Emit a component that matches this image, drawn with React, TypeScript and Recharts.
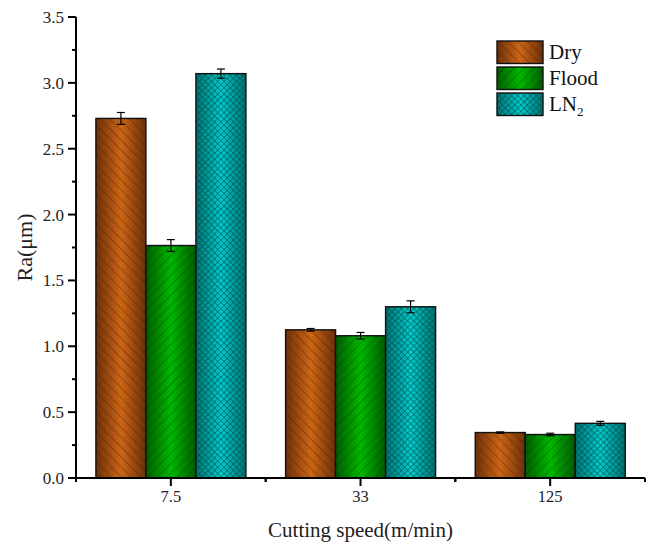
import React from "react";
import { BarChart, Bar, XAxis, YAxis, ErrorBar, Label } from "recharts";

const categories = ["7.5", "33", "125"];
const dryValues = [2.73, 1.125, 0.345];
const floodValues = [1.765, 1.08, 0.33];
const ln2Values = [3.07, 1.3, 0.415];
const dryErrors = [0.045, 0.01, 0.005];
const floodErrors = [0.045, 0.025, 0.01];
const ln2Errors = [0.035, 0.045, 0.015];
const yTicks = [0, 0.25, 0.5, 0.75, 1, 1.25, 1.5, 1.75, 2, 2.25, 2.5, 2.75, 3, 3.25, 3.5];

const data = categories.map((c, i) => ({
  speed: c,
  dry: dryValues[i],
  flood: floodValues[i],
  ln2: ln2Values[i],
  dryErr: dryErrors[i],
  floodErr: floodErrors[i],
  ln2Err: ln2Errors[i],
}));

const FONT = "Liberation Serif, serif";

type SeriesStyle = {
  key: string;
  name: string;
  edge: string;
  mid: string;
  hatch: string;
  kind: "back" | "fwd" | "cross";
};

const series: SeriesStyle[] = [
  { key: "dry", name: "Dry", edge: "#6c3008", mid: "#cc6616", hatch: "#3a1800", kind: "back" },
  { key: "flood", name: "Flood", edge: "#005c00", mid: "#00b800", hatch: "#003000", kind: "fwd" },
  { key: "ln2", name: "LN2", edge: "#007272", mid: "#00cccc", hatch: "#004040", kind: "cross" },
];

// gradient + hatch definitions, prefixed so the legend svg can carry its own copy
const Fills = ({ prefix }: { prefix: string }) => (
  <defs>
    {series.map((s) => (
      <linearGradient key={`g-${s.key}`} id={`${prefix}-grad-${s.key}`} x1="0" y1="0" x2="1" y2="0">
        <stop offset="0%" stopColor={s.edge} />
        <stop offset="50%" stopColor={s.mid} />
        <stop offset="100%" stopColor={s.edge} />
      </linearGradient>
    ))}
    {series.map((s) =>
      s.kind === "cross" ? (
        <pattern
          key={`p-${s.key}`}
          id={`${prefix}-pat-${s.key}`}
          patternUnits="userSpaceOnUse"
          width={4.4}
          height={4.4}
          patternTransform="rotate(45)"
        >
          <line x1={0} y1={0} x2={0} y2={4.4} stroke={s.hatch} strokeWidth={1.2} strokeOpacity={0.8} />
          <line x1={0} y1={0} x2={4.4} y2={0} stroke={s.hatch} strokeWidth={1.2} strokeOpacity={0.8} />
        </pattern>
      ) : (
        <pattern
          key={`p-${s.key}`}
          id={`${prefix}-pat-${s.key}`}
          patternUnits="userSpaceOnUse"
          width={7}
          height={7}
          patternTransform={s.kind === "back" ? "rotate(-45)" : "rotate(45)"}
        >
          <line x1={0} y1={0} x2={0} y2={7} stroke={s.hatch} strokeWidth={0.9} strokeOpacity={0.75} />
        </pattern>
      )
    )}
  </defs>
);

const hatchedRect = (prefix: string, key: string, x: number, y: number, w: number, h: number) => (
  <g>
    <rect x={x} y={y} width={w} height={h} fill={`url(#${prefix}-grad-${key})`} />
    <rect x={x} y={y} width={w} height={h} fill={`url(#${prefix}-pat-${key})`} />
    <rect x={x} y={y} width={w} height={h} fill="none" stroke="#111" strokeWidth={1.4} />
  </g>
);

const barShape = (key: string) => (props: any) => {
  const { x, y, width, height } = props;
  if (!width || !height) return <g />;
  return hatchedRect("c", key, x, y, width, height);
};

const YTick = (props: any) => {
  const { x, y, payload } = props;
  const v = payload.value as number;
  const major = Math.abs(v * 2 - Math.round(v * 2)) < 1e-6;
  const axisX = x + 11;
  return (
    <g>
      <line x1={axisX} y1={y} x2={axisX - (major ? 8 : 4)} y2={y} stroke="#000" strokeWidth={2} />
      {major && (
        <text x={x - 1} y={y} dy={6} textAnchor="end" fontFamily={FONT} fontSize={17} fill="#222">
          {v.toFixed(1)}
        </text>
      )}
    </g>
  );
};

const XTick = (props: any) => {
  const { x, y, payload } = props;
  const axisY = y - 10;
  const half = payload.offset || 95;
  return (
    <g>
      <line x1={x} y1={axisY} x2={x} y2={axisY + 8} stroke="#000" strokeWidth={2} />
      <line x1={x - half} y1={axisY} x2={x - half} y2={axisY + 4} stroke="#000" strokeWidth={2} />
      <line x1={x + half} y1={axisY} x2={x + half} y2={axisY + 4} stroke="#000" strokeWidth={2} />
      <text x={x} y={y} dy={14} textAnchor="middle" fontFamily={FONT} fontSize={16.5} fill="#222">
        {payload.value}
      </text>
    </g>
  );
};

const LegendBox = () => (
  <div style={{ position: "absolute", left: 496, top: 39 }}>
    {series.map((s) => (
      <div key={s.key} style={{ display: "flex", alignItems: "center", height: 26 }}>
        <svg width={48} height={25} style={{ display: "block" }}>
          <Fills prefix={`l${s.key}`} />
          {hatchedRect(`l${s.key}`, s.key, 1, 1, 46, 22.5)}
        </svg>
        <span style={{ fontFamily: FONT, fontSize: 21, color: "#111", marginLeft: 5, lineHeight: "22px" }}>
          {s.key === "ln2" ? (
            <>
              LN<sub style={{ fontSize: 13, verticalAlign: "-5px", lineHeight: 0 }}>2</sub>
            </>
          ) : (
            s.name
          )}
        </span>
      </div>
    ))}
  </div>
);

export default function App() {
  return (
    <div style={{ position: "absolute", left: 0, top: 0, width: 648, height: 543, background: "#fff" }}>
      <BarChart
        width={648}
        height={543}
        data={data}
        margin={{ top: 17, right: 3, left: 16, bottom: 35 }}
        barGap={0}
        barCategoryGap="10.5%"
      >
        <Fills prefix="c" />
        <XAxis
          dataKey="speed"
          height={30}
          tickLine={false}
          tickSize={8}
          tickMargin={2}
          axisLine={{ stroke: "#000", strokeWidth: 2 }}
          tick={<XTick />}
        >
          <Label
            content={(p: any) => {
              const vb = p.viewBox;
              return (
                <text
                  x={vb.x + vb.width / 2}
                  y={vb.y + 59}
                  textAnchor="middle"
                  fontFamily={FONT}
                  fontSize={21}
                  fill="#222"
                >
                  Cutting speed(m/min)
                </text>
              );
            }}
          />
        </XAxis>
        <YAxis
          width={60}
          domain={[0, 3.5]}
          ticks={yTicks}
          interval={0}
          tickLine={false}
          tickSize={8}
          tickMargin={3}
          axisLine={{ stroke: "#000", strokeWidth: 2 }}
          tick={<YTick />}
        >
          <Label
            content={(p: any) => {
              const vb = p.viewBox;
              const cx = vb.x + 16;
              const cy = vb.y + vb.height / 2;
              return (
                <text
                  x={cx}
                  y={cy}
                  transform={`rotate(-90 ${cx} ${cy})`}
                  textAnchor="middle"
                  fontFamily={FONT}
                  fontSize={22}
                  fill="#222"
                >
                  Ra(μm)
                </text>
              );
            }}
          />
        </YAxis>
        {series.map((s) => (
          <Bar key={s.key} dataKey={s.key} name={s.name} shape={barShape(s.key)} isAnimationActive={false}>
            <ErrorBar dataKey={`${s.key}Err`} width={4} stroke="#000" strokeWidth={1.2} direction="y" />
          </Bar>
        ))}
      </BarChart>
      <LegendBox />
    </div>
  );
}
